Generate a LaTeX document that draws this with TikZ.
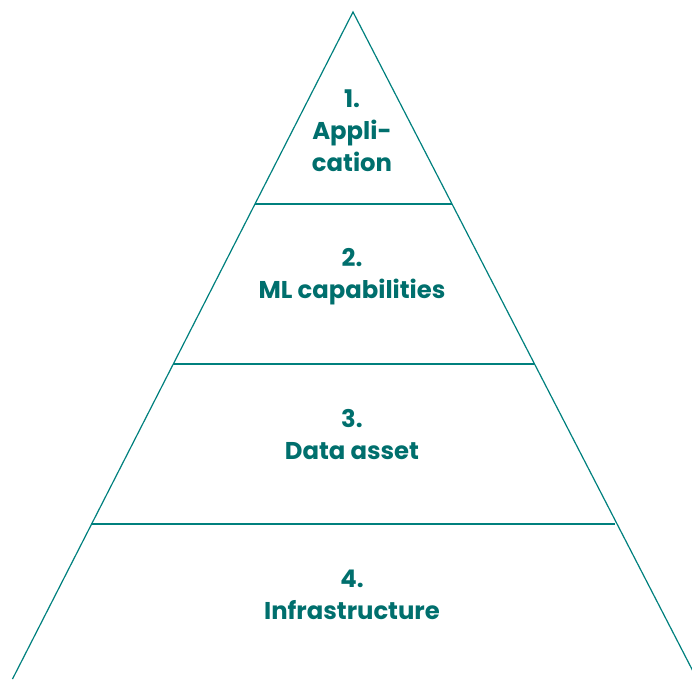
\documentclass[tikz,border=0pt]{standalone}
\usepackage{fontspec}
\setmainfont{Poppins}
\definecolor{teal1}{HTML}{00807E}
\definecolor{tealtext}{HTML}{006F6D}
\begin{document}
\begin{tikzpicture}[x=1pt,y=-1pt,
  edge/.style={draw=teal1,line width=1.2pt},
  lbl/.style={font=\fontsize{24.3}{32}\selectfont\bfseries,text=tealtext,align=center,inner sep=0pt}]
\useasboundingbox (0,0) rectangle (692,679);
\begin{scope}
\clip (0,0) rectangle (692,679);
\coordinate (apex) at (353,12);
\coordinate (bl) at (12.5,679);
\coordinate (br) at (697,679);
\draw[edge] (bl) -- (apex) -- (br);
\coordinate (l1) at (255,204); \coordinate (r1) at (452,204);
\coordinate (l2) at (173,364); \coordinate (r2) at (535,364);
\coordinate (l3) at (91,524);  \coordinate (r3) at (615,524);
\draw[edge] (l1) -- (r1);
\draw[edge] (l2) -- (r2);
\draw[edge] (l3) -- (r3);
\end{scope}
\node[lbl] (t1) at (352,131) {1.\\Appli-\\cation};
\node[lbl] (t2) at (352,277) {2.\\ML capabilities};
\node[lbl] (t3) at (352,435) {3.\\Data asset};
\node[lbl] (t4) at (352,595) {4.\\Infrastructure};
\end{tikzpicture}
\end{document}
